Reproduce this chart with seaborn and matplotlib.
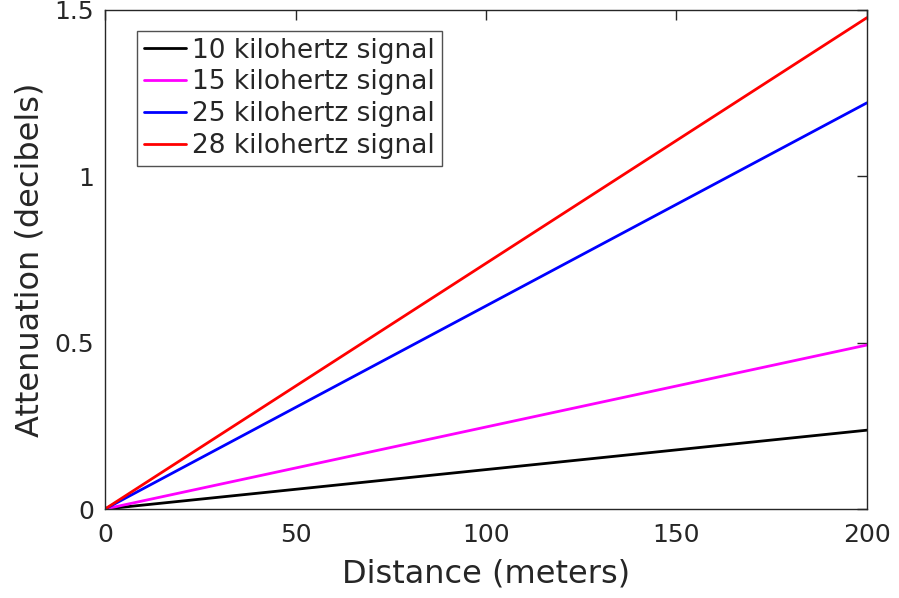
import pandas as pd
import matplotlib
matplotlib.use("Agg")
import matplotlib.pyplot as plt
import seaborn as sns

# data (straight lines from 0 to 200 m)
distance = [0, 200]
att_10k = [0, 0.237]
att_15k = [0, 0.493]
att_25k = [0, 1.221]
att_28k = [0, 1.477]

labels = ["10 kilohertz signal", "15 kilohertz signal",
          "25 kilohertz signal", "28 kilohertz signal"]
colors = ["black", "magenta", "blue", "red"]

rows = []
for lab, vals in zip(labels, [att_10k, att_15k, att_25k, att_28k]):
    for d, a in zip(distance, vals):
        rows.append({"Distance": d, "Attenuation": a, "Signal": lab})
df = pd.DataFrame(rows)

sns.set_style("white")
plt.rcParams["font.family"] = ["DejaVu Sans"]

fig = plt.figure(figsize=(8.99, 5.98), dpi=100)
ax = fig.add_axes([0.1168, 0.1488, 0.8476, 0.8345])

sns.lineplot(data=df, x="Distance", y="Attenuation", hue="Signal",
             palette=colors, linewidth=2, ax=ax)

ax.set_xlim(0, 200)
ax.set_ylim(0, 1.5)
ax.set_xticks([0, 50, 100, 150, 200])
ax.set_yticks([0, 0.5, 1, 1.5])
ax.set_yticklabels(["0", "0.5", "1", "1.5"])
ax.set_xlabel("Distance (meters)", fontsize=23, color="#262626", labelpad=8)
ax.set_ylabel("Attenuation (decibels)", fontsize=23, color="#262626", labelpad=6)
ax.tick_params(direction="in", length=7, width=1, top=True, right=True,
               labelsize=18, colors="#262626")
ax.tick_params(axis="x", pad=10)
ax.tick_params(axis="y", pad=8)
for s in ax.spines.values():
    s.set_color("#262626")
    s.set_linewidth(1)

leg = ax.legend(loc="upper left", bbox_to_anchor=(0.042, 0.958), fontsize=19,
                frameon=True, fancybox=False, edgecolor="#262626",
                handlelength=1.6, handletextpad=0.25, borderpad=0.25,
                labelspacing=0.22, borderaxespad=0)
leg.get_frame().set_linewidth(1)

fig.savefig("out.png", dpi=100)
